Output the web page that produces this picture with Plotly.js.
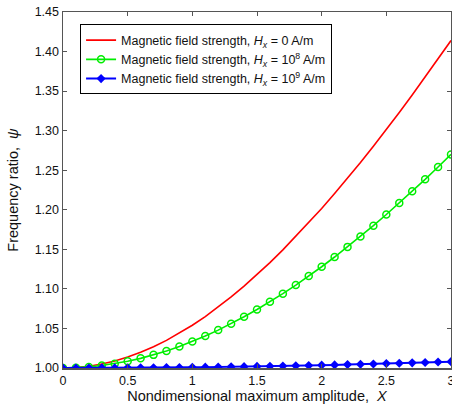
<!DOCTYPE html>
<html>
<head>
<meta charset="utf-8">
<script src="https://cdn.plot.ly/plotly-3.0.1.min.js"></script>
<style>
  html, body { margin: 0; padding: 0; background: #fff; }
  #chart { width: 452px; height: 409px; }
</style>
</head>
<body>
<div id="chart"></div>
<script>
// Nondimensional maximum amplitude X, sampled every 0.1
const amplitude = [0.0, 0.1, 0.2, 0.3, 0.4, 0.5, 0.6, 0.7, 0.8, 0.9,
                   1.0, 1.1, 1.2, 1.3, 1.4, 1.5, 1.6, 1.7, 1.8, 1.9,
                   2.0, 2.1, 2.2, 2.3, 2.4, 2.5, 2.6, 2.7, 2.8, 2.9, 3.0];

// Frequency ratio psi for Hx = 0 A/m
const psiH0 = [1.0000, 1.0006, 1.0022, 1.0050, 1.0089, 1.0138, 1.0198, 1.0268, 1.0349, 1.0440,
               1.0540, 1.0650, 1.0770, 1.0898, 1.1034, 1.1179, 1.1332, 1.1493, 1.1665, 1.1835,
               1.2017, 1.2205, 1.2399, 1.2598, 1.2804, 1.3014, 1.3230, 1.3451, 1.3676, 1.3905, 1.4139];

// Frequency ratio psi for Hx = 1e8 A/m
const psiH8 = [1.0000, 1.0003, 1.0014, 1.0031, 1.0054, 1.0085, 1.0122, 1.0166, 1.0216, 1.0272,
               1.0335, 1.0404, 1.0479, 1.0560, 1.0647, 1.0739, 1.0837, 1.0940, 1.1048, 1.1162,
               1.1280, 1.1403, 1.1531, 1.1663, 1.1799, 1.1940, 1.2085, 1.2233, 1.2385, 1.2541, 1.2700];

// Frequency ratio psi for Hx = 1e9 A/m
const psiH9 = [1.0000, 1.0000, 1.0000, 1.0001, 1.0001, 1.0002, 1.0003, 1.0004, 1.0006, 1.0007,
               1.0009, 1.0011, 1.0013, 1.0015, 1.0017, 1.0020, 1.0023, 1.0026, 1.0029, 1.0032,
               1.0036, 1.0039, 1.0043, 1.0047, 1.0051, 1.0056, 1.0060, 1.0065, 1.0070, 1.0075, 1.0080];

const seriesNames = [
  'Magnetic field strength, <i>H<sub>x</sub></i> = 0 A/m',
  'Magnetic field strength, <i>H<sub>x</sub></i> = 10<sup>8</sup> A/m',
  'Magnetic field strength, <i>H<sub>x</sub></i> = 10<sup>9</sup> A/m'
];

const yTicks = [1.00, 1.05, 1.10, 1.15, 1.20, 1.25, 1.30, 1.35, 1.40, 1.45];
const xTicks = [0, 0.5, 1, 1.5, 2, 2.5, 3];
const xTickText = ['0', '0.5', '1', '1.5', '2', '2.5', '3'];

const FONT = 'Liberation Sans, Arial, sans-serif';

const traces = [
  {
    x: amplitude, y: psiH0, name: seriesNames[0],
    type: 'scatter', mode: 'lines',
    line: { color: '#ff0000', width: 1.6 }
  },
  {
    x: amplitude, y: psiH8, name: seriesNames[1],
    type: 'scatter', mode: 'lines+markers',
    line: { color: '#00ee00', width: 1.6 },
    marker: { symbol: 'circle-open', size: 7, color: '#00ee00', line: { width: 1.5, color: '#00ee00' } }
  },
  {
    x: amplitude, y: psiH9, name: seriesNames[2],
    type: 'scatter', mode: 'lines+markers',
    line: { color: '#0000ff', width: 2 },
    marker: { symbol: 'diamond', size: 7, color: '#0000ff' }
  }
];

const axisCommon = {
  showline: true, linecolor: '#555', linewidth: 1.5,
  mirror: 'ticks', ticks: 'inside', ticklen: 4, tickcolor: '#555', tickwidth: 1,
  showgrid: false, zeroline: false,
  ticklabeloverflow: 'allow',
  tickfont: { family: FONT, size: 12.5, color: '#111' }
};

const layout = {
  width: 452, height: 409,
  margin: { l: 63, r: 1, t: 12, b: 41 },
  paper_bgcolor: '#fff', plot_bgcolor: '#fff',
  showlegend: true,
  xaxis: Object.assign({}, axisCommon, {
    range: [0, 3], tickvals: xTicks, ticktext: xTickText,
    title: { text: 'Nondimensional maximum amplitude,  <i>X</i>', standoff: 4,
             font: { family: FONT, size: 14.5, color: '#111' } }
  }),
  yaxis: Object.assign({}, axisCommon, {
    range: [1.0, 1.45], tickvals: yTicks, tickformat: '.2f',
    title: { text: 'Frequency ratio,  <i>ψ</i>', standoff: 12,
             font: { family: FONT, size: 14.5, color: '#111' } }
  }),
  legend: {
    x: 0.044, y: 0.965, xanchor: 'left', yanchor: 'top',
    bgcolor: '#fff', bordercolor: '#000', borderwidth: 1,
    font: { family: FONT, size: 12.5, color: '#111' },
    tracegroupgap: 0, itemwidth: 30
  }
};

Plotly.newPlot('chart', traces, layout, { displayModeBar: false, staticPlot: true });
</script>
</body>
</html>
